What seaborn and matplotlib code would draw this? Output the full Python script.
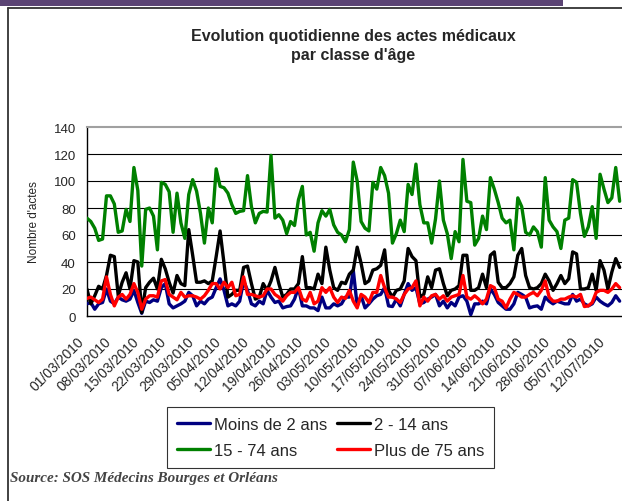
import numpy as np
import pandas as pd
import matplotlib
matplotlib.use("Agg")
import matplotlib.pyplot as plt
import matplotlib.transforms as mtransforms
from matplotlib.lines import Line2D
from matplotlib.patches import Rectangle
import seaborn as sns

# Daily medical acts by age group, starting 01/03/2010
start_date = "2010-03-01"

moins_2_ans = [
    9, 10, 5, 9, 10, 20, 11, 9, 14, 12, 11, 12.5, 19, 10, 2, 11, 10, 12, 11, 21, 24, 9, 6,
    7.5, 9, 11, 17.5, 15, 7.5, 11, 9, 12.5, 14, 21, 27.5, 19, 7.5, 9, 7.5, 11, 26, 19, 9, 7.5, 11,
    9, 19, 14, 10, 11, 6, 7, 7.5, 12.5, 21, 7.5, 7.5, 6, 6, 4, 14, 6, 6, 9, 7.5, 9, 14, 14,
    34, 7.5, 15, 6, 9, 12.5, 15, 16, 21, 7.5, 7, 12.5, 7.5, 16, 24, 19, 21, 9, 10, 12.5, 14, 16,
    7.5, 11, 6, 10, 7.5, 14, 15, 11, 1, 9, 9, 11, 9, 20, 16, 10, 7.5, 5, 5, 9, 17.5, 16, 14,
    6, 7, 7.5, 5, 14, 11, 9, 11, 10, 9, 9, 16, 11, 12.5, 9, 7.5, 9, 14, 11, 9, 7.5, 10, 15, 11,
]

ans_2_14 = [
    20, 9, 15, 22, 20, 30, 45, 44, 15, 25, 32, 20, 41, 40, 2.5, 21, 25, 28, 20, 42, 35, 25, 17,
    30, 24, 22.5, 64, 45, 25, 25, 26, 24, 26, 44, 63, 39, 14, 16, 19, 19, 36, 37, 24, 12.5, 14,
    24, 19, 26, 36, 24, 14, 16, 20, 20, 24, 44, 21, 21, 20, 31, 24, 51, 34, 21, 19, 25, 24, 31,
    34, 51, 39, 24, 26, 34, 35, 37.5, 49, 19, 14, 19, 20, 26, 50, 44, 41, 14, 16, 29, 21, 34,
    35, 24, 15, 19, 20, 22.5, 45, 45, 19, 19, 21, 31, 21, 45, 47.5, 25, 21, 21, 24, 29, 45, 50, 30,
    21, 20, 21, 24, 31, 26, 19, 24, 30, 24, 27.5, 47.5, 46, 20, 20, 21, 31, 19, 41, 34, 20, 32.5, 42.5, 36,
]

ans_15_74 = [
    72.5, 70, 65, 56, 57, 89, 89, 83, 62, 63, 79, 70, 110, 93, 37, 79, 80, 74, 49, 99, 97.5, 92, 62,
    91, 69, 57.5, 90, 101, 92.5, 76, 54, 80, 69, 109, 96, 95, 91, 82.5, 76, 77.5, 78, 104, 81, 69, 76,
    77.5, 77, 119, 72.5, 75, 71, 61, 70, 67, 86, 96, 60, 62, 48, 69, 78, 74, 79, 67.5, 62, 60, 55, 64,
    114, 100, 70, 65, 63, 99, 94, 110, 104, 91, 54, 61, 71, 62.5, 97.5, 90, 112.5, 82.5, 69, 69, 54, 72,
    100, 71, 61, 42.5, 62.5, 55, 116, 85, 84, 52.5, 57.5, 74, 64, 102.5, 94, 84, 72.5, 69, 71, 49, 87.5, 81, 62,
    60, 66, 62.5, 51, 102.5, 71, 66, 62.5, 50, 71, 72.5, 101, 99, 76, 59, 66, 81, 57.5, 105, 94, 84, 87.5, 110, 85,
]

plus_75_ans = [
    13, 14, 12, 10, 12.5, 29, 16, 7.5, 14, 16, 12.5, 16, 24, 17.5, 5, 12.5, 15, 15, 14, 26, 27, 16, 14,
    12, 17.5, 14, 15, 15, 14, 12.5, 15, 19, 24, 24, 20, 25, 21, 25, 15, 16, 29, 16, 16, 15, 14,
    15, 20, 20, 16, 14, 11, 15, 17.5, 17.5, 21, 12.5, 11, 17.5, 9, 11, 21, 17.5, 21, 14, 10, 14, 13, 19,
    11, 6, 16, 14, 10, 17.5, 17.5, 30, 21, 14, 14, 12.5, 10, 16, 20, 21, 26, 7.5, 14, 11, 15, 16,
    12.5, 15, 11, 14, 15, 16, 30, 14, 12.5, 15, 12.5, 9, 12.5, 22.5, 21, 12.5, 11, 6, 12.5, 17.5, 16, 14, 14,
    16, 17.5, 15, 19, 26, 14, 11, 11, 12.5, 12.5, 14, 15, 14, 16, 7, 7.5, 10, 17.5, 19, 19, 17.5, 20, 24, 21,
]

series_names = ["Moins de 2 ans", "2 - 14 ans", "15 - 74 ans", "Plus de 75 ans"]
series_colors = ["#000080", "#000000", "#008000", "#ff0000"]
y_ticks = [0, 20, 40, 60, 80, 100, 120, 140]
tick_step_days = 7

title_text = "Evolution quotidienne des actes médicaux\npar classe d'âge"
y_label = "Nombre d'actes"
source_text = "Source: SOS Médecins Bourges et Orléans"

# ---- long-form table for seaborn ----
n_days = len(moins_2_ans)
dates = pd.date_range(start_date, periods=n_days, freq="D")
values = [moins_2_ans, ans_2_14, ans_15_74, plus_75_ans]
df = pd.DataFrame({
    "Date": np.tile(dates, len(series_names)),
    "Classe": np.repeat(series_names, n_days),
    "Actes": np.concatenate([np.asarray(v, dtype=float) for v in values]),
})

sns.set_style("white")
plt.rcParams["font.family"] = ["Liberation Sans", "DejaVu Sans"]

W, H = 622, 502
fig = plt.figure(figsize=(W / 100, H / 100), dpi=100)
fig.patch.set_facecolor("white")


def fx(px):
    return px / W


def fy(py):
    return 1 - py / H


# header band and frame of the panel
fig.add_artist(Rectangle((0, fy(7)), fx(563), 7 / H, transform=fig.transFigure,
                         facecolor="#5b4474", edgecolor="none"))
fig.add_artist(Line2D([fx(8), fx(8)], [fy(9), 0], transform=fig.transFigure,
                      color="#333333", lw=1.3))
fig.add_artist(Line2D([fx(8), 1], [fy(9), fy(9)], transform=fig.transFigure,
                      color="#333333", lw=1.3))

x0, x1 = 86.9, 622
y_top, y_bot = 128, 317
ax = fig.add_axes([fx(x0), fy(y_bot), fx(x1 - x0), (y_bot - y_top) / H])

for y in y_ticks[1:-1]:
    ax.axhline(y, color="black", lw=0.8, zorder=1)

sns.lineplot(data=df, x="Date", y="Actes", hue="Classe", hue_order=series_names,
             palette=dict(zip(series_names, series_colors)), linewidth=2.4,
             legend=False, ax=ax, zorder=3)

ax.set_ylim(y_ticks[0], y_ticks[-1])
ax.set_yticks(y_ticks)
ax.set_xlim(dates[0], dates[0] + pd.Timedelta(days=136.6))
tick_dates = dates[::tick_step_days][:20]
ax.set_xticks(tick_dates)
ax.set_xticklabels([d.strftime("%d/%m/%Y") for d in tick_dates], rotation=45,
                   ha="right", fontsize=10)
shift = mtransforms.ScaledTranslation(-7 / 100, 0, fig.dpi_scale_trans)
for lbl in ax.get_xticklabels():
    lbl.set_transform(lbl.get_transform() + shift)
ax.tick_params(axis="x", direction="out", length=4, width=0.8, color="black", pad=9)
ax.tick_params(axis="y", direction="out", length=4, width=0.8, color="black",
               pad=4, labelsize=9.5)
ax.set_xlabel("")
ax.set_ylabel(y_label, fontsize=8.5, labelpad=10)

for side in ("left", "bottom"):
    ax.spines[side].set_color("black")
    ax.spines[side].set_linewidth(1.0)
ax.spines["top"].set_color("#a0a0a0")
ax.spines["top"].set_linewidth(1.5)
ax.spines["right"].set_visible(False)

fig.text(fx(353), fy(46), title_text, ha="center", va="center", fontsize=11.5,
         fontweight="bold", linespacing=1.3)

# legend filled row by row: matplotlib fills columns first, so interleave
order = [0, 2, 1, 3]
handles = [Line2D([], [], color=series_colors[i], lw=2.4) for i in order]
labels = [series_names[i] for i in order]
leg = fig.legend(handles, labels, ncol=2, loc="upper left",
                 bbox_to_anchor=(fx(167), fy(408)), bbox_transform=fig.transFigure,
                 frameon=True, fancybox=False, edgecolor="black", fontsize=12,
                 handlelength=2.0, handletextpad=0.2, columnspacing=0.6,
                 labelspacing=0.65, borderpad=0.6, borderaxespad=0)
leg.get_frame().set_linewidth(0.8)

fig.text(fx(10), fy(479), source_text, ha="left", va="center", fontsize=10.9,
         fontweight="bold", fontstyle="italic", color="#444444",
         family=["Liberation Serif", "DejaVu Serif"])

fig.savefig("out.png", dpi=100)
